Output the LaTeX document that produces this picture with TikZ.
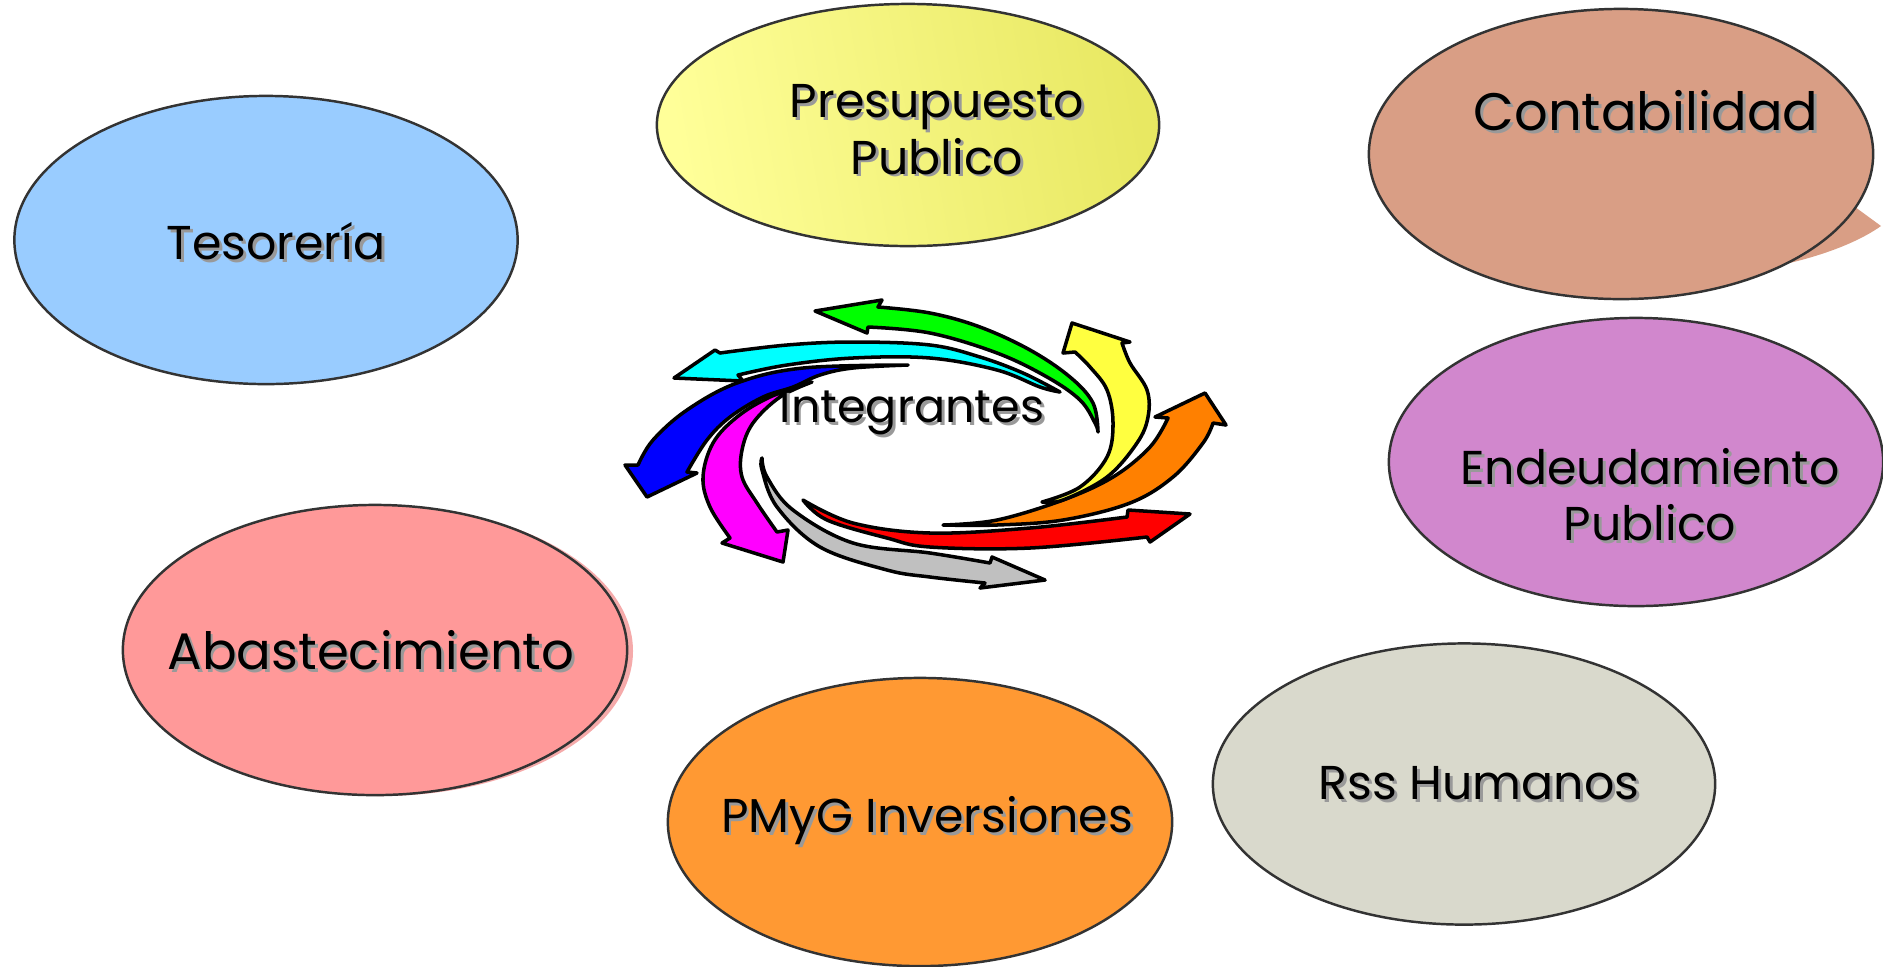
\documentclass[tikz,border=0pt]{standalone}
\usepackage{fontspec}
\setmainfont{Poppins}
\usetikzlibrary{shapes.geometric}
\definecolor{tesor}{HTML}{99CCFF}
\definecolor{presA}{HTML}{FFFF99}
\definecolor{presB}{HTML}{E8E862}
\definecolor{contab}{HTML}{D99E85}
\definecolor{endeu}{HTML}{D187CD}
\definecolor{abast}{HTML}{FF9999}
\definecolor{abastsh}{HTML}{F5AAAA}
\definecolor{pmyg}{HTML}{FF9933}
\definecolor{rss}{HTML}{D9D9CC}
\definecolor{agreen}{HTML}{00FF00}
\definecolor{acyan}{HTML}{00FFFF}
\definecolor{ablue}{HTML}{0000FF}
\definecolor{amag}{HTML}{FF00FF}
\definecolor{agray}{HTML}{C0C0C0}
\definecolor{ared}{HTML}{FF0000}
\definecolor{aorange}{HTML}{FF8000}
\definecolor{ayellow}{HTML}{FFFF40}
\newcommand\shtext[1]{\leavevmode\rlap{\hspace{0.8pt}\raisebox{-0.8pt}{\textcolor{black!40}{#1}}}#1}
\tikzset{
  oval/.style={ellipse, draw=black!80, line width=0.7pt, inner sep=0pt},
  lbl/.style={font=\fontsize{13.5}{16}\selectfont, align=center, inner sep=0pt, text=black},
  arr/.style={draw=black, line width=1pt, line join=round},
  sm/.style={smooth, tension=0.6}
}
\begin{document}
\begin{tikzpicture}[x=0.01cm, y=-0.01cm]
\useasboundingbox (0,0) rectangle (1883,966);
% ellipses
\node[oval, fill=tesor, minimum width=5.03cm, minimum height=2.88cm] (tes) at (266,240) {};
\node[oval, shading=axis, left color=presA, right color=presB, shading angle=100, minimum width=5.02cm, minimum height=2.42cm] (pre) at (908,125) {};
\fill[contab] (1840,196) -- (1881,226) .. controls (1850,248) and (1800,262) .. (1765,268) -- (1760,240) -- cycle;
\node[oval, fill=contab, minimum width=5.04cm, minimum height=2.90cm] (con) at (1621,154) {};
\node[oval, fill=endeu, minimum width=4.94cm, minimum height=2.88cm] (end) at (1636,462) {};
\fill[abastsh] (381,651) ellipse (252 and 145);
\node[oval, fill=abast, minimum width=5.04cm, minimum height=2.90cm] (aba) at (375,650) {};
\node[oval, fill=pmyg, minimum width=5.04cm, minimum height=2.88cm] (pmy) at (920,822) {};
\node[oval, fill=rss, minimum width=5.02cm, minimum height=2.81cm] (rss) at (1464,784) {};
% labels
\node[lbl] (tesT) at (276,243) {\shtext{Tesorería}};
\node[lbl] (preT) at (937,131) {\shtext{Presupuesto}\\\shtext{Publico}};
\node[lbl, font=\fontsize{15}{18}\selectfont] (conT) at (1646,112) {\shtext{Contabilidad}};
\node[lbl] (endT) at (1650,496) {\shtext{Endeudamiento}\\\shtext{Publico}};
\node[lbl, font=\fontsize{14.6}{17}\selectfont] (abaT) at (371,652) {\shtext{Abastecimiento}};
\node[lbl] (pmyT) at (927,822) {\shtext{PMyG Inversiones}};
\node[lbl] (rssT) at (1479,785) {\shtext{Rss Humanos}};
% center arrows
\filldraw[arr, fill=agreen] (1098,432) -- plot[sm] coordinates {(1098,432) (1093,403) (1070,377) (1030,350) (980,327) (930,313) (878,307)} -- (882,300) -- (815,311) -- (867,333) -- (868,327) -- plot[sm] coordinates {(868,327) (930,333) (997,353) (1047,377) (1080,400) (1095,423) (1098,432)} -- cycle;
\filldraw[arr, fill=acyan] (1060,392) -- plot[sm] coordinates {(1060,392) (1023,373) (980,357) (930,345) (853,342) (787,345) (720,353)} -- (715,350) -- (674,378) -- (743,381) -- (738,375) -- plot[sm] coordinates {(738,375) (787,365) (853,358) (930,358) (997,370) (1040,387) (1060,392)} -- cycle;
\filldraw[arr, fill=ablue] (908,365) -- plot[sm] coordinates {(908,365) (803,368) (737,383) (687,410) (653,440) (638,465)} -- (625,465) -- (647,497) -- (697,473) -- (687,472) -- plot[sm] coordinates {(687,472) (707,440) (730,417) (763,397) (793,387) (820,375) (853,368) (908,365)} -- cycle;
\filldraw[arr, fill=amag] (812,382) -- plot[sm] coordinates {(812,382) (770,397) (737,417) (713,443) (703,477) (710,507) (730,538)} -- (722,543) -- (783,562) -- (788,530) -- (777,532) -- plot[sm] coordinates {(777,532) (757,503) (742,477) (742,450) (753,423) (780,397) (812,382)} -- cycle;
\filldraw[arr, fill=agray] (762,458) -- plot[sm] coordinates {(762,458) (767,477) (793,510) (853,543) (930,553) (990,563)} -- (992,557) -- (1045,580) -- (980,588) -- (985,583) -- plot[sm] coordinates {(985,583) (930,577) (887,570) (820,547) (777,507) (762,470) (762,458)} -- cycle;
\filldraw[arr, fill=ared] (803,500) -- plot[sm] coordinates {(803,500) (853,523) (930,533) (1030,528) (1127,517)} -- (1128,510) -- (1190,514) -- (1150,542) -- (1147,537) -- plot[sm] coordinates {(1147,537) (1030,548) (930,547) (887,538) (827,520) (803,500)} -- cycle;
\filldraw[arr, fill=aorange] (943,525) -- plot[sm] coordinates {(943,525) (997,520) (1063,500) (1113,477) (1150,447) (1168,418)} -- (1155,417) -- (1205,393) -- (1226,425) -- (1213,423) -- plot[sm] coordinates {(1213,423) (1203,443) (1173,477) (1130,503) (1063,520) (997,525) (943,525)} -- cycle;
\filldraw[arr, fill=ayellow] (1042,502) -- plot[sm] coordinates {(1042,502) (1080,487) (1107,457) (1113,423) (1107,390) (1090,367) (1075,352)} -- (1063,353) -- (1072,323) -- (1130,342) -- (1122,343) -- plot[sm] coordinates {(1122,343) (1130,363) (1147,390) (1148,417) (1137,443) (1107,477) (1063,500) (1042,502)} -- cycle;
\node[lbl, font=\fontsize{13.1}{15}\selectfont] (integ) at (912,414) {\shtext{Integrantes}};
\end{tikzpicture}
\end{document}
